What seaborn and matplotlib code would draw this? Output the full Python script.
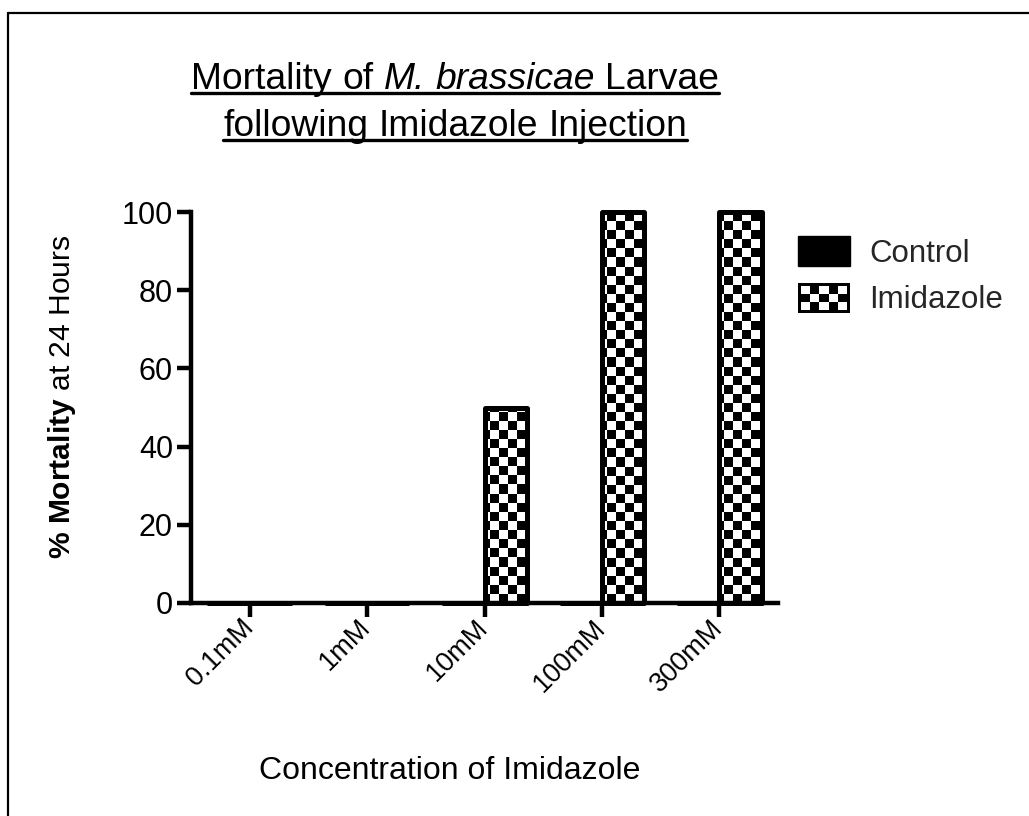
import numpy as np
import pandas as pd
import matplotlib
matplotlib.use("Agg")
import matplotlib.pyplot as plt
from matplotlib import font_manager as fm
from matplotlib.lines import Line2D
from matplotlib.patches import Rectangle, Patch
from matplotlib.legend_handler import HandlerPatch
import seaborn as sns

# Data
concentrations = ["0.1mM", "1mM", "10mM", "100mM", "300mM"]
control_mortality = [0, 0, 0, 0, 0]
imidazole_mortality = [0, 0, 50, 100, 100]
treatments = ["Control", "Imidazole"]
y_ticks = [0, 20, 40, 60, 80, 100]

df = pd.DataFrame({
    "Concentration": concentrations * 2,
    "Treatment": ["Control"] * len(concentrations) + ["Imidazole"] * len(concentrations),
    "Mortality": control_mortality + imidazole_mortality,
})

sns.set_theme(style="ticks")
plt.rcParams["font.family"] = ["Liberation Sans", "DejaVu Sans"]

# Title face: a narrow sans if present, otherwise the regular one at a smaller size
try:
    fm.findfont(fm.FontProperties(family="Liberation Sans Narrow"), fallback_to_default=False)
    title_family, title_size = "Liberation Sans Narrow", 33
except ValueError:
    title_family, title_size = "Liberation Sans", 26.8

plt.rcParams["mathtext.fontset"] = "custom"
plt.rcParams["mathtext.rm"] = "Liberation Sans"
plt.rcParams["mathtext.it"] = "Liberation Sans:italic"
plt.rcParams["mathtext.bf"] = "Liberation Sans:bold"

FS = 22.5
W, H = 1029, 816
fig = plt.figure(figsize=(W / 100, H / 100), dpi=100)
ax = fig.add_axes([191 / W, 1 - 603 / H, (778 - 191) / W, (603 - 212) / H])

sns.barplot(data=df, x="Concentration", y="Mortality", hue="Treatment",
            hue_order=treatments, order=concentrations,
            palette={"Control": "black", "Imidazole": "white"},
            width=0.72, gap=0, edgecolor="black", linewidth=3.6,
            errorbar=None, legend=False, ax=ax)

ax.set_xlim(-0.5, 4.5)
ax.set_ylim(0, 100)
ax.set_yticks(y_ticks)

# Checkerboard fill for the imidazole bars
cell = 9
ncols = int(round(587 / cell))
nrows = int(round(391 / cell))
checker = (np.add.outer(np.arange(nrows), np.arange(ncols)) % 2).astype(float)
for bar in ax.containers[1]:
    bar.set_facecolor("none")
    bar.set_zorder(3)
    bar.set_clip_on(False)
    bar.set_joinstyle("round")
    if bar.get_height() > 0:
        im = ax.imshow(checker, cmap="gray", vmin=0, vmax=1, extent=(-0.5, 4.5, 0, 100),
                       aspect="auto", interpolation="nearest", zorder=2.5)
        im.set_clip_path(bar)
for bar in ax.containers[0]:
    bar.set_clip_on(False)
ax.set_xlim(-0.5, 4.5)
ax.set_ylim(0, 100)

sns.despine(ax=ax)
for s in ["left", "bottom"]:
    ax.spines[s].set_linewidth(3.2)
    ax.spines[s].set_color("black")
ax.tick_params(axis="both", length=10, width=3.2, color="black",
               labelcolor="black", direction="out")
ax.tick_params(axis="y", pad=3, labelsize=22)
ax.tick_params(axis="x", pad=5, labelsize=19.5)
for lbl in ax.get_xticklabels():
    lbl.set_rotation(45)
    lbl.set_ha("right")
    lbl.set_va("center")
    lbl.set_rotation_mode("anchor")
ax.set_xlabel("")
ax.set_ylabel("")

# Axis titles
fig.text(450 / W, 1 - 771 / H, "Concentration of Imidazole", fontsize=23,
         ha="center", va="center", color="black")
fig.text(62 / W, 1 - 397 / H, r"$\mathbf{\%\ Mortality}$ at 24 Hours", fontsize=21.6,
         rotation=90, ha="center", va="center", color="black")


# Legend with a checkered swatch
class HandlerChecker(HandlerPatch):
    def create_artists(self, legend, orig_handle, xdescent, ydescent, width, height,
                       fontsize, trans):
        x0, y0 = -xdescent, -ydescent
        artists = [Rectangle((x0, y0), width, height, facecolor="black",
                             edgecolor="none", transform=trans)]
        border = 0.1 * height
        nx, ny = 5, 3
        cw = (width - 2 * border) / nx
        ch = (height - 2 * border) / ny
        for i in range(nx):
            for j in range(ny):
                if (i + j) % 2 == 0:
                    artists.append(Rectangle((x0 + border + i * cw, y0 + border + j * ch),
                                             cw, ch, facecolor="white", edgecolor="none",
                                             transform=trans))
        return artists


handles = [Patch(facecolor="black", edgecolor="black"),
           Patch(facecolor="white", edgecolor="black")]
leg = fig.legend(handles, treatments, loc="upper left",
                 bbox_to_anchor=(798 / W, 1 - 236 / H), frameon=False, fontsize=FS,
                 handlelength=1.66, handleheight=1.1, handletextpad=0.62,
                 labelspacing=0.45, borderpad=0, borderaxespad=0,
                 handler_map={handles[1]: HandlerChecker()})

# Two-line underlined title, built from word runs so the species name is italic
title_runs = [
    [("Mortality", "normal"), ("of", "normal"), ("M.", "italic"),
     ("brassicae", "italic"), ("Larvae", "normal")],
    [("following", "normal"), ("Imidazole", "normal"), ("Injection", "normal")],
]
baselines = [89, 136]
title_cx = 455
fig.canvas.draw()
renderer = fig.canvas.get_renderer()


def text_width(s, style):
    t = fig.text(0, 0, s, fontsize=title_size, family=title_family, style=style)
    w = t.get_window_extent(renderer).width
    t.remove()
    return w


space_w = text_width("n n", "normal") - text_width("nn", "normal")
for runs, base in zip(title_runs, baselines):
    widths = [text_width(s, st) for s, st in runs]
    total = sum(widths) + space_w * (len(runs) - 1)
    x = title_cx - total / 2
    x_start = x
    for (s, st), w in zip(runs, widths):
        fig.text(x / W, 1 - base / H, s, fontsize=title_size, family=title_family,
                 style=st, ha="left", va="baseline", color="black")
        x += w + space_w
    uy = 1 - (base + 4) / H
    fig.add_artist(Line2D([x_start / W, (x_start + total) / W], [uy, uy], color="black",
                          lw=2.4, transform=fig.transFigure))

# Outer frame (left and top edges)
fig.add_artist(Line2D([8 / W, 8 / W], [0, 1 - 12.5 / H], color="black", lw=1.6,
                      transform=fig.transFigure))
fig.add_artist(Line2D([8 / W, 1], [1 - 12.5 / H, 1 - 12.5 / H], color="black", lw=1.6,
                      transform=fig.transFigure))

fig.savefig("out.png", dpi=100, facecolor="white")
